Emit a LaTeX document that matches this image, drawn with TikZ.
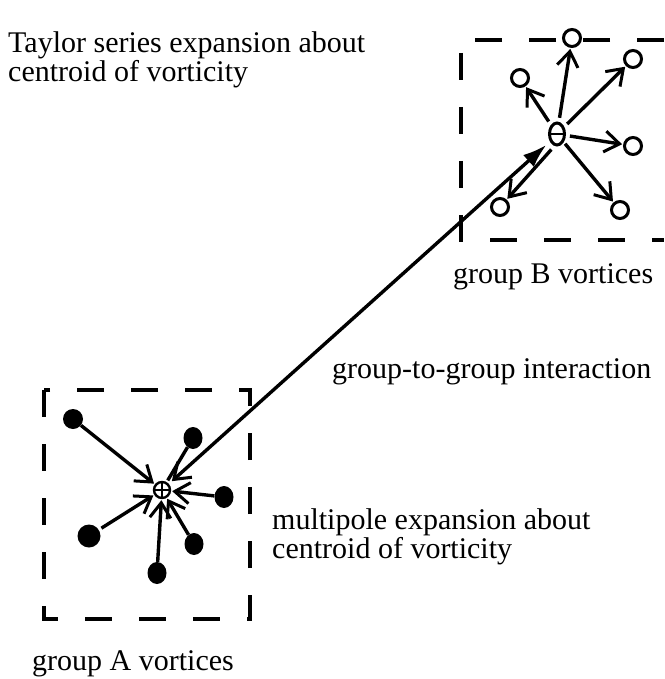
\documentclass[tikz,border=0pt]{standalone}
\usepackage{fontspec}
\setmainfont{Liberation Serif}
\usetikzlibrary{arrows.meta,shapes.geometric}
\begin{document}
\begin{tikzpicture}[x=1pt,y=-1pt,
  lbl/.style={anchor=base west,inner sep=0pt,font=\fontsize{30}{29}\selectfont,align=left},
  dot/.style={circle,fill=black,inner sep=0pt,minimum width=20pt,minimum height=20pt},
  ring/.style={circle,draw=black,line width=3pt,inner sep=0pt,minimum size=17pt},
  arr/.style={line width=3.4pt,-{Straight Barb[length=15pt,width=21pt,line width=3pt]},shorten >=1pt},
  plain/.style={line width=3.4pt},
  box/.style={line width=3.4pt,dash pattern=on 27pt off 27pt}]
\useasboundingbox (0,0) rectangle (664,679);
% boxes
\draw[box] (44,390) rectangle (250,619);
\draw[box] (664,40) -- (461,40) -- (461,240) -- (664,240);
% centroids
\node[circle,draw,line width=2.4pt,inner sep=0pt,minimum size=16pt,
  path picture={\draw[line width=1.5pt] (path picture bounding box.north) -- (path picture bounding box.south)
  (path picture bounding box.west) -- (path picture bounding box.east);}] (cA) at (162,490) {};
\node[ellipse,draw,line width=3pt,inner sep=0pt,minimum width=15pt,minimum height=22pt,
  path picture={\draw[line width=2.4pt] (path picture bounding box.west) -- (path picture bounding box.east);}] (cB) at (557,134) {};
% group A dots
\node[dot] (a1) at (73,419) {};
\node[dot,minimum height=22pt,minimum width=19pt,ellipse] (a2) at (193,438) {};
\node[dot,minimum height=22pt,minimum width=19pt,ellipse] (a3) at (224,497) {};
\node[dot,minimum width=23pt,minimum height=23pt] (a4) at (89,536) {};
\node[dot,minimum height=22pt,minimum width=19pt,ellipse] (a5) at (194,544) {};
\node[dot,minimum height=22pt,minimum width=19pt,ellipse] (a6) at (157,573) {};
\draw[arr] (a1) -- (cA);
\draw[plain,shorten >=2pt] (a2) -- (cA);
\draw[arr] (a3) -- (cA);
\draw[arr,shorten <=3pt] (a4) -- (cA);
\draw[arr] (a5) -- (cA);
\draw[arr] (a6) -- (cA);
% group B circles
\node[ring] (b1) at (572,38) {};
\node[ring] (b2) at (633,59) {};
\node[ring] (b3) at (520,78) {};
\node[ring] (b4) at (633,146) {};
\node[ring] (b5) at (500,207) {};
\node[ring] (b6) at (620,210) {};
\draw[arr,shorten <=4pt] (cB) -- (b1);
\draw[arr,shorten <=4pt] (cB) -- (b2);
\draw[arr,shorten <=4pt] (cB) -- (b3);
\draw[arr,shorten <=4pt] (cB) -- (b4);
\draw[arr,shorten <=2pt] (cB) -- (b6);
\draw[arr,shorten <=4pt] ([xshift=-3pt]cB.south) -- (b5);
% long interaction arrow
\draw[line width=3.4pt,{Straight Barb[length=15pt,width=21pt,line width=3pt]}-{Latex[length=24pt,width=16pt]},shorten <=4pt,shorten >=3pt] (cA) -- ([xshift=-2pt]cB.south west);
% labels
\node[lbl] (t1) at (8,82) {Taylor series expansion about\\centroid of vorticity};
\node[lbl] (t2) at (453,283) {group B vortices};
\node[lbl] (t3) at (332,378) {group-to-group interaction};
\node[lbl] (t4) at (272,558) {multipole expansion about\\centroid of vorticity};
\node[lbl] (t5) at (32,670) {group A vortices};
\end{tikzpicture}
\end{document}
